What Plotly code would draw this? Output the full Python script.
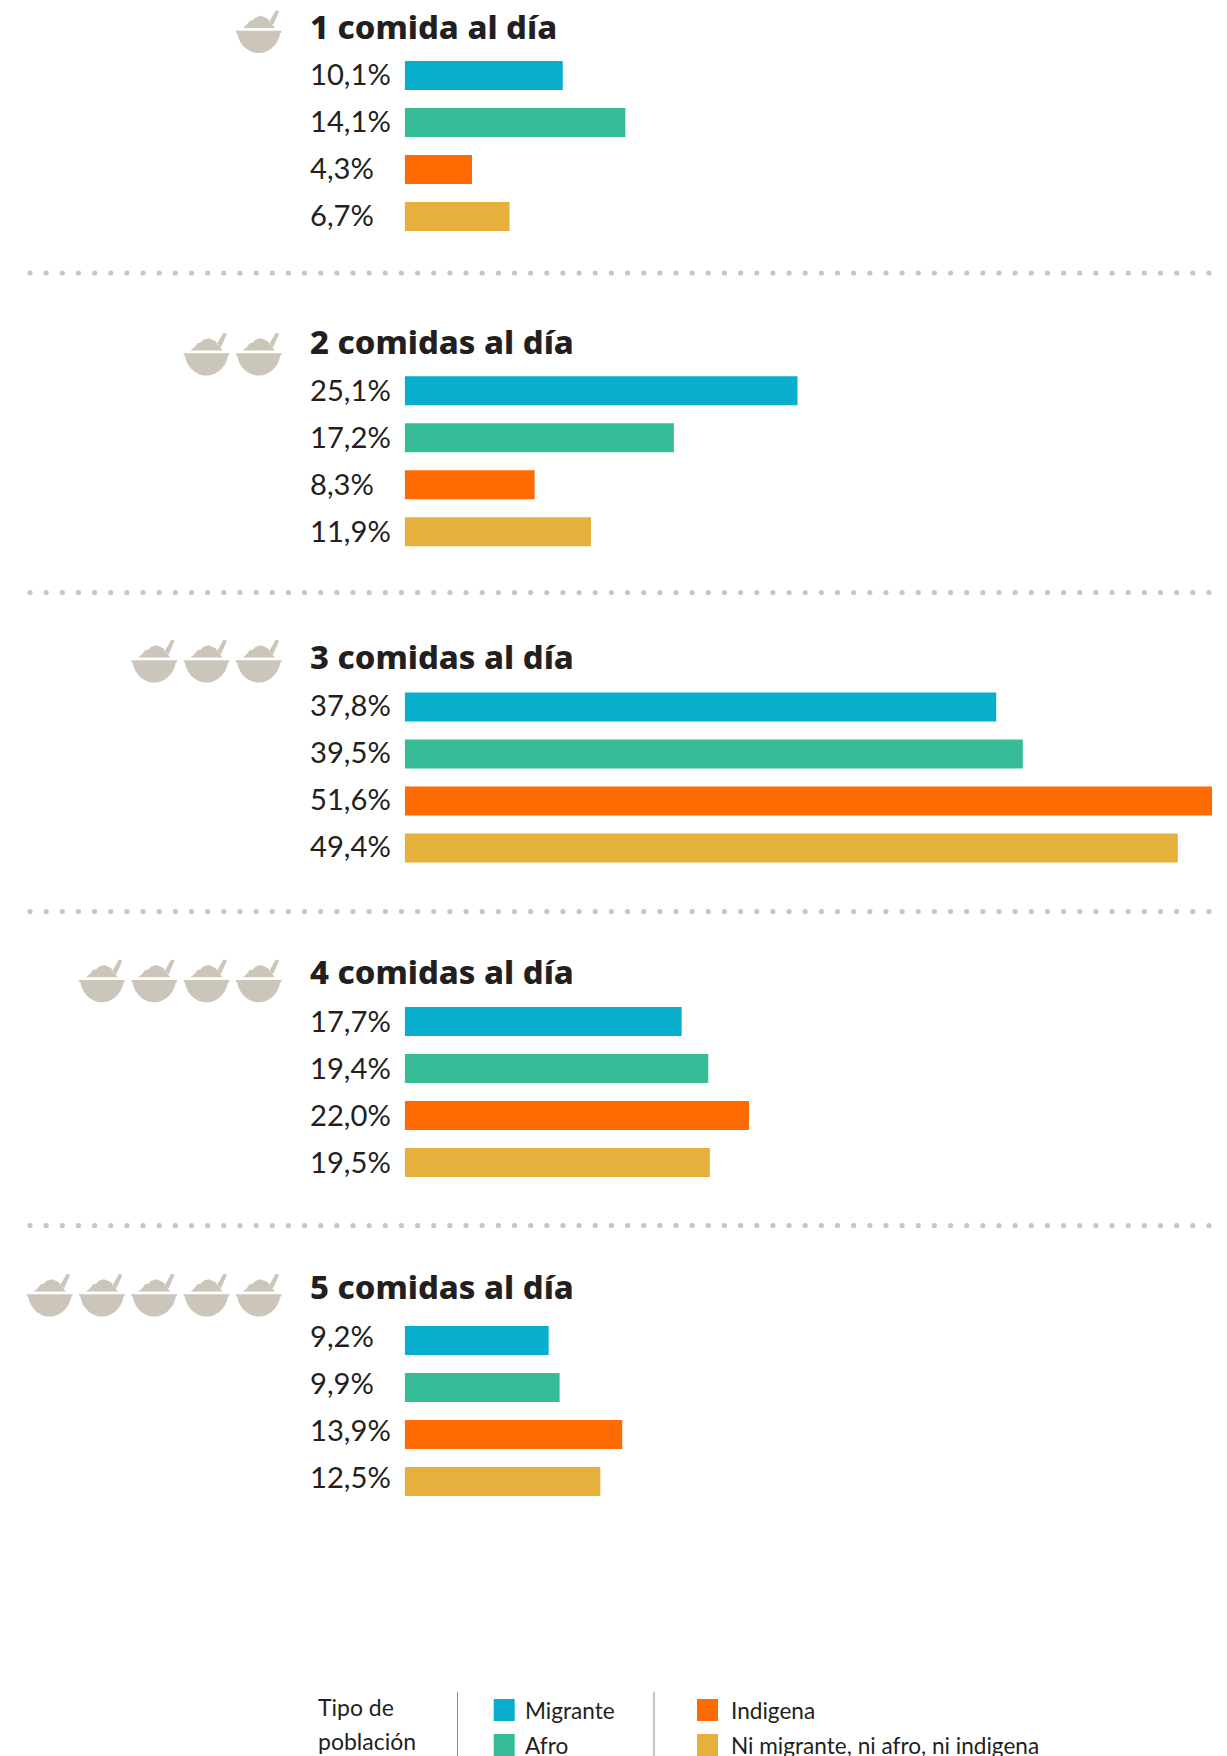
import plotly.graph_objects as go

W, H = 1227, 1756

panel_titles = ["1 comida al día", "2 comidas al día", "3 comidas al día", "4 comidas al día", "5 comidas al día"]
series_names = ["Migrante", "Afro", "Indigena", "Ni migrante, ni afro, ni indigena"]
series_colors = ["#0AAECD", "#36BD98", "#FF6B00", "#E5B03B"]
migrante = [10.1, 25.1, 37.8, 17.7, 9.2]
afro = [14.1, 17.2, 39.5, 19.4, 9.9]
indigena = [4.3, 8.3, 51.6, 22.0, 13.9]
ninguno = [6.7, 11.9, 49.4, 19.5, 12.5]
meals_per_day = [1, 2, 3, 4, 5]
legend_title = ["Tipo de", "población"]

TEXT = "#231F20"
BOWL = "#CBC5BA"
FONT = "Lato"
panel_tops = [52, 367.2, 683.5, 998, 1317]
title_y = [26.5, 341, 656.5, 971.5, 1286.5]
label_shift = [2, 1, 2, 1, 5]
rim_y = [30.7, 353.3, 660.3, 980, 1294.3]
divider_y = [273, 592.5, 911.5, 1225.5]
ROW = 47
X0, X1 = 404.7, 1212.2


def px(x):
    return x / W


def py(y):
    return 1 - y / H


fig = go.Figure()
layout = {}
annotations = []
shapes = []
all_series = [migrante, afro, indigena, ninguno]

for p, title in enumerate(panel_titles):
    suffix = "" if p == 0 else str(p + 1)
    top = panel_tops[p]
    layout["xaxis" + suffix] = dict(domain=[px(X0), px(X1)], range=[0, 51.6], visible=False,
                                    anchor="y" + suffix, fixedrange=True)
    layout["yaxis" + suffix] = dict(domain=[py(top + 4 * ROW), py(top)], type="category",
                                    categoryorder="array", categoryarray=series_names,
                                    range=[3.5, -0.5], visible=False, anchor="x" + suffix, fixedrange=True)
    for s, name in enumerate(series_names):
        fig.add_trace(go.Bar(x=[all_series[s][p]], y=[name], orientation="h", name=name,
                             marker=dict(color=series_colors[s], line=dict(width=0)),
                             width=29 / ROW, showlegend=False, hoverinfo="skip",
                             xaxis="x" + suffix, yaxis="y" + suffix))
        label = f"{all_series[s][p]:.1f}".replace(".", ",") + "%"
        annotations.append(dict(text=label, x=px(307.5), xref="paper", y=name, yref="y" + suffix,
                                xanchor="left", yanchor="middle", showarrow=False,
                                yshift=label_shift[p], font=dict(family=FONT, size=29.2, color=TEXT)))
    annotations.append(dict(text=title, x=px(307.5), xref="paper", y=py(title_y[p]), yref="paper",
                            xanchor="left", yanchor="middle", showarrow=False,
                            font=dict(family="Noto Sans", size=32.8, weight=800, color=TEXT)))


def bowl_path(cx, cy):
    pt = lambda x, y: f"{px(cx + x):.5f},{py(cy + y):.5f}"
    d = (f"M{pt(-23, 0)} L{pt(23, 0)} L{pt(22.5, 2.2)} L{pt(21.5, 2.2)} "
         f"C{pt(20, 13)} {pt(11, 22.3)} {pt(0, 22.3)} "
         f"C{pt(-11, 22.3)} {pt(-20, 13)} {pt(-21.5, 2.2)} L{pt(-22.5, 2.2)} Z ")
    mound = [(-16, -2.7), (-12, -6), (-9, -10), (-6, -10.5), (-3, -13.5), (2, -15), (6, -13.5), (9, -12),
             (12.5, -7.5), (16, -2.7)]
    d += "M" + " L".join(pt(x, y) for x, y in mound) + " Z "
    spoon = [(10.5, -9), (17, -20.5), (20.5, -19.5), (14.5, -6)]
    d += "M" + " L".join(pt(x, y) for x, y in spoon) + " Z"
    return d


for p, n in enumerate(meals_per_day):
    for i in range(n):
        cx = 258.7 - i * 52.25
        shapes.append(dict(type="path", xref="paper", yref="paper", layer="above",
                           path=bowl_path(cx, rim_y[p]), fillcolor=BOWL, line=dict(width=0)))

for y in divider_y:
    x = 30.0
    while x <= 1213:
        r = 2.6
        shapes.append(dict(type="circle", xref="paper", yref="paper", x0=px(x - r), x1=px(x + r),
                           y0=py(y + r), y1=py(y - r), fillcolor=BOWL, line=dict(width=0)))
        x += 16.15

# legend
for t, y in zip(legend_title, [1707, 1741]):
    annotations.append(dict(text=t, x=px(316), xref="paper", y=py(y), yref="paper", xanchor="left",
                            yanchor="middle", showarrow=False, font=dict(family=FONT, size=23, color=TEXT)))
for x in (457.5, 654):
    shapes.append(dict(type="line", xref="paper", yref="paper", x0=px(x), x1=px(x), y0=py(1692), y1=py(1756),
                       line=dict(color="#8A8A8A", width=1)))
swatches = [(493.7, 1699, 29), (493.7, 1734, 29), (697, 1699, 32), (697, 1734, 32)]
for (x, y, gap), name, col in zip(swatches, series_names, series_colors):
    shapes.append(dict(type="rect", xref="paper", yref="paper", x0=px(x), x1=px(x + 21), y0=py(y + 22), y1=py(y),
                       fillcolor=col, line=dict(width=0)))
    annotations.append(dict(text=name, x=px(x + gap), xref="paper", y=py(y + 11), yref="paper", xanchor="left",
                            yanchor="middle", showarrow=False, font=dict(family=FONT, size=22.6, color=TEXT)))

fig.update_layout(width=W, height=H, margin=dict(l=0, r=0, t=0, b=0), paper_bgcolor="white",
                  plot_bgcolor="white", barmode="overlay", annotations=annotations, shapes=shapes, **layout)
fig.write_html("out.html", config=dict(displayModeBar=False),
               post_script="document.body.style.margin='0';document.documentElement.style.overflow='hidden';")
